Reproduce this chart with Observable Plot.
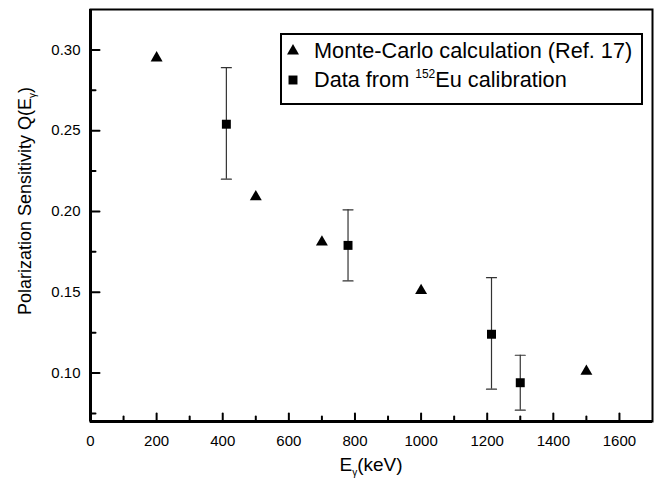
<!DOCTYPE html>
<html>
<head>
<meta charset="utf-8">
<script src="https://cdn.jsdelivr.net/npm/d3@7"></script>
<script src="https://cdn.jsdelivr.net/npm/@observablehq/plot@0.6"></script>
<style>
  html, body { margin: 0; padding: 0; background: #fff; }
  #chart { width: 663px; height: 483px; }
</style>
</head>
<body>
<div id="chart"></div>
<script>
// Monte-Carlo calculation (Ref. 17)
const mcEnergy = [200, 500, 700, 1000, 1500];
const mcQ = [0.295, 0.209, 0.181, 0.151, 0.101];

// Data from 152Eu calibration
const euEnergy = [411, 779, 1213, 1300];
const euQ = [0.254, 0.179, 0.124, 0.094];
const euLow = [0.220, 0.157, 0.090, 0.077];
const euHigh = [0.289, 0.201, 0.159, 0.111];

// axes
const xDomain = [0, 1700];
const yDomain = [0.07, 0.325];
const xTicks = [0, 200, 400, 600, 800, 1000, 1200, 1400, 1600];
const xMinorTicks = [100, 300, 500, 700, 900, 1100, 1300, 1500];
const yTicks = [0.10, 0.15, 0.20, 0.25, 0.30];
const yMinorTicks = [0.075, 0.125, 0.175, 0.225, 0.275];

const mc = mcEnergy.map((e, i) => ({e, q: mcQ[i]}));
const eu = euEnergy.map((e, i) => ({e, q: euQ[i], lo: euLow[i], hi: euHigh[i]}));

const FONT = "'Liberation Sans', Arial, Helvetica, sans-serif";

const vline = {draw(ctx, l) { ctx.moveTo(0, 0); ctx.lineTo(0, -l); }};
const hcap = {draw(ctx, l) { ctx.moveTo(-l / 2, 0); ctx.lineTo(l / 2, 0); }};

const plot = Plot.plot({
  width: 663,
  height: 483,
  marginLeft: 90,
  marginRight: 11,
  marginTop: 9,
  marginBottom: 62,
  style: {fontFamily: FONT, color: "#000", background: "#fff"},
  x: {domain: xDomain},
  y: {domain: yDomain},
  marks: [
    // error bars
    Plot.ruleX(eu, {x: "e", y1: "lo", y2: "hi", stroke: "#333", strokeWidth: 1.2}),
    Plot.vector(eu, {x: "e", y: "lo", length: 10, rotate: 0, anchor: "start", shape: hcap, stroke: "#333", strokeWidth: 1.2}),
    Plot.vector(eu, {x: "e", y: "hi", length: 10, rotate: 0, anchor: "start", shape: hcap, stroke: "#333", strokeWidth: 1.2}),
    // points
    Plot.dot(mc, {x: "e", y: "q", symbol: "triangle2", r: 5.7, fill: "#000"}),
    Plot.dot(eu, {x: "e", y: "q", symbol: "square2", r: 5.7, fill: "#000"}),
    // inward ticks
    Plot.vector(xTicks, {x: d => d, frameAnchor: "bottom", length: 8, rotate: 0, anchor: "start", shape: vline, stroke: "#000", strokeWidth: 2}),
    Plot.vector(xMinorTicks, {x: d => d, frameAnchor: "bottom", length: 5, rotate: 0, anchor: "start", shape: vline, stroke: "#000", strokeWidth: 2}),
    Plot.vector(yTicks, {y: d => d, frameAnchor: "left", length: 9, rotate: 90, anchor: "start", shape: vline, stroke: "#000", strokeWidth: 2}),
    Plot.vector(yMinorTicks, {y: d => d, frameAnchor: "left", length: 5, rotate: 90, anchor: "start", shape: vline, stroke: "#000", strokeWidth: 2}),
    // tick labels
    Plot.axisX({ticks: xTicks, tickSize: 0, tickPadding: 14, fontSize: 15, label: null, tickFormat: d3.format("d")}),
    Plot.axisY({ticks: yTicks, tickSize: 0, tickPadding: 10, fontSize: 15, label: null, tickFormat: d3.format(".2f")}),
    // frame
    Plot.frame({stroke: "#000", strokeWidth: 2}),
    Plot.ruleX([xDomain[0]], {stroke: "#000", strokeWidth: 3}),
    Plot.ruleY([yDomain[0]], {stroke: "#000", strokeWidth: 3})
  ]
});

document.getElementById("chart").appendChild(plot);

const svg = d3.select(plot);

// y axis title
const yt = svg.append("text")
  .attr("transform", "translate(31,201) rotate(-90)")
  .attr("text-anchor", "middle")
  .attr("font-family", FONT)
  .attr("font-size", 18)
  .attr("fill", "#000");
yt.append("tspan").text("Polarization Sensitivity Q(E");
yt.append("tspan").attr("font-size", 10).attr("dy", 5).text("γ");
yt.append("tspan").attr("dy", -5).text(")");

// x axis title
const xt = svg.append("text")
  .attr("x", 371).attr("y", 471)
  .attr("text-anchor", "middle")
  .attr("font-family", FONT)
  .attr("font-size", 19)
  .attr("fill", "#000");
xt.append("tspan").text("E");
xt.append("tspan").attr("font-size", 10).attr("dy", 5).text("γ");
xt.append("tspan").attr("dy", -5).text("(keV)");

// legend
const lg = svg.append("g").attr("font-family", FONT).attr("fill", "#000").attr("text-anchor", "start");
lg.append("rect").attr("x", 281).attr("y", 34).attr("width", 361).attr("height", 70)
  .attr("fill", "#fff").attr("stroke", "#000").attr("stroke-width", 2);
lg.append("path").attr("transform", "translate(293,51)")
  .attr("d", d3.symbol(d3.symbolTriangle2, Math.PI * 5.7 * 5.7)());
lg.append("path").attr("transform", "translate(293,80)")
  .attr("d", d3.symbol(d3.symbolSquare2, Math.PI * 5.7 * 5.7)());
lg.append("text").attr("x", 314).attr("y", 58).attr("font-size", 21.7)
  .text("Monte-Carlo calculation (Ref. 17)");
const t2 = lg.append("text").attr("x", 314).attr("y", 87).attr("font-size", 21.7);
t2.append("tspan").text("Data from ");
t2.append("tspan").attr("font-size", 12).attr("dy", -9).text("152");
t2.append("tspan").attr("dy", 9).text("Eu calibration");
</script>
</body>
</html>
